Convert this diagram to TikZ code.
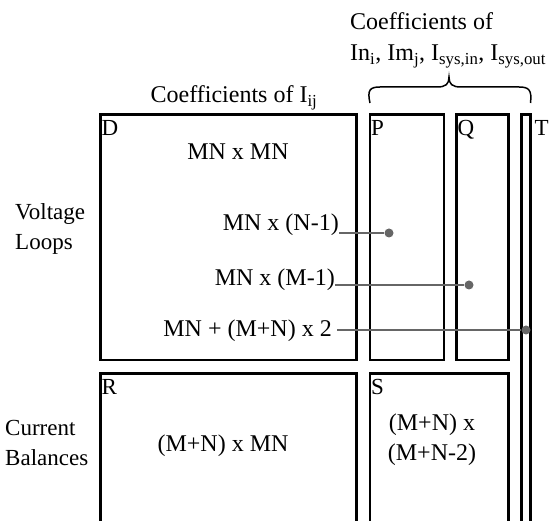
\documentclass[tikz,border=0pt]{standalone}
\usepackage{fontspec}
\setmainfont{Liberation Serif}
\usetikzlibrary{positioning}

\tikzset{
  blk/.style={draw, line width=2.5pt, inner sep=0pt, outer sep=0pt, anchor=north west},
  corner/.style={font=\fontsize{23}{26}\selectfont, inner sep=0pt, anchor=north west},
  dim/.style={font=\fontsize{24}{28}\selectfont, inner sep=0pt},
  side/.style={font=\fontsize{23}{30}\selectfont, align=left, inner sep=0pt, anchor=west},
  pin/.style={circle, fill=black!60, inner sep=0pt, minimum size=9pt},
  lead/.style={draw=black!60, line width=1.5pt},
}

\begin{document}
\begin{tikzpicture}[x=1pt, y=-1pt]
    \clip (0,0) rectangle (550,521);

    % upper blocks
    \node[blk, minimum width=256pt, minimum height=245.5pt] (D) at (100.5,114.5) {};
    \node[blk, minimum width=74pt, minimum height=245.5pt] (P) at (370,114.5) {};
    \node[blk, minimum width=52pt, minimum height=245.5pt] (Q) at (456.5,114.5) {};
    \node[blk, minimum width=9pt, minimum height=500pt] (T) at (521.5,114.5) {};
    % lower blocks
    \node[blk, minimum width=256pt, minimum height=300pt] (R) at (100.5,373.5) {};
    \node[blk, minimum width=138.5pt, minimum height=300pt] (S) at (370,373.5) {};

    \node[corner] (Dl) at ([shift={(1,6)}]D.north west) {D};
    \node[corner] (Pl) at ([shift={(1,6)}]P.north west) {P};
    \node[corner] (Ql) at ([shift={(1,6)}]Q.north west) {Q};
    \node[corner] (Tl) at ([shift={(4,6)}]T.north east) {T};
    \node[corner] (Rl) at ([shift={(1,6)}]R.north west) {R};
    \node[corner] (Sl) at ([shift={(1,6)}]S.north west) {S};

    \node[dim] (dd) at (238,152) {MN x MN};
    \node[dim] (rr) at (223,446) {(M+N) x MN};
    \node[dim, align=center] (ss) at (432,440) {(M+N) x\\[2pt](M+N-2)};

    % sizes of P, Q, T
    \node[dim, anchor=east] (np) at (339,225) {MN x (N-1)};
    \node[dim, anchor=east] (nq) at (335,280) {MN x (M-1)};
    \node[dim, anchor=east] (nt) at (332,331) {MN + (M+N) x 2};
    \node[pin] (dp) at (389,233) {};
    \node[pin] (dq) at (469,285) {};
    \node[pin] (dt) at (526,330) {};
    \draw[lead] (np.east |- dp) -- (dp);
    \draw[lead] (nq.east |- dq) -- (dq);
    \draw[lead] ([xshift=5pt]nt.east |- dt) -- (dt);

    % rows
    \node[side] (volt) at (15,229) {Voltage\\Loops};
    \node[side] (curr) at (5,443) {Current\\Balances};

    % columns
    \node[dim, anchor=base] (cij) at (234,103) {Coefficients of I\textsubscript{ij}};
    \node[dim, align=left, anchor=north west] (cin) at (350,12.5)
        {Coefficients of\\[3pt]In\textsubscript{i}, Im\textsubscript{j}, I\textsubscript{sys,in}, I\textsubscript{sys,out}};
    \draw[line width=1.5pt] (P.north west |- 0,103) .. controls (367,90) and (370,87) .. (380,87)
        -- (437,87) .. controls (446,87) and (449,84) .. (449,77)
        .. controls (449,84) and (452,87) .. (461,87) -- (519,87)
        .. controls (529,87) and (532,90) .. (T.north east |- 0,103);
\end{tikzpicture}
\end{document}
